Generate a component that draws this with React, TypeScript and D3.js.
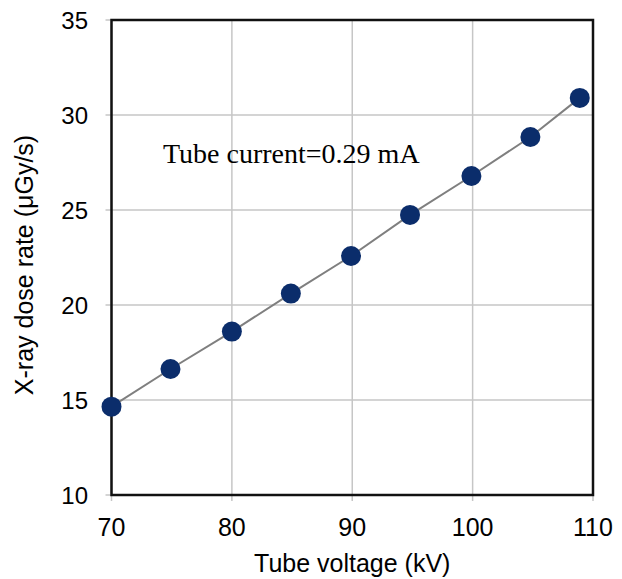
import React from "react";
import * as d3 from "d3";

const voltages = [70, 74.9, 80, 84.9, 89.9, 94.8, 99.9, 104.8, 108.9];
const doseRates = [14.65, 16.63, 18.6, 20.6, 22.58, 24.74, 26.79, 28.84, 30.9];
const xTicks = [70, 80, 90, 100, 110];
const yTicks = [10, 15, 20, 25, 30, 35];

const W = 622;
const H = 579;
const left = 111.5;
const right = 593;
const top = 20;
const bottom = 495;

export default function App() {
  const x = d3.scaleLinear().domain([70, 110]).range([left, right]);
  const y = d3.scaleLinear().domain([10, 35]).range([bottom, top]);
  const pts = voltages.map((v, i) => [v, doseRates[i]] as [number, number]);
  const line = d3
    .line<[number, number]>()
    .x((d) => x(d[0]))
    .y((d) => y(d[1]));
  const sans = "Liberation Sans, Arial, sans-serif";
  return (
    <svg
      width={W}
      height={H}
      style={{ position: "absolute", left: 0, top: 0, background: "#fff" }}
    >
      {/* grid */}
      {xTicks.map((t) => (
        <line key={"gx" + t} x1={x(t)} x2={x(t)} y1={top} y2={bottom + 6} stroke="#c6c6c6" strokeWidth={1.5} />
      ))}
      {yTicks.map((t) => (
        <line key={"gy" + t} x1={left - 6} x2={right} y1={y(t)} y2={y(t)} stroke="#c6c6c6" strokeWidth={1.5} />
      ))}
      {/* frame */}
      <rect x={left} y={top} width={right - left} height={bottom - top} fill="none" stroke="#111" strokeWidth={2.5} />
      {/* tick labels */}
      {xTicks.map((t) => (
        <text key={"tx" + t} x={x(t)} y={536} textAnchor="middle" fontFamily={sans} fontSize={25} fill="#000">
          {t}
        </text>
      ))}
      {yTicks.map((t) => (
        <text key={"ty" + t} x={88} y={y(t) + 8.5} textAnchor="end" fontFamily={sans} fontSize={24} fill="#000">
          {t}
        </text>
      ))}
      {/* axis titles */}
      <text x={(left + right) / 2} y={572} textAnchor="middle" fontFamily={sans} fontSize={25} fill="#000">
        Tube voltage (kV)
      </text>
      <text
        transform={`translate(33,${265}) rotate(-90)`}
        textAnchor="middle"
        fontFamily={sans}
        fontSize={25}
        fill="#000"
      >
        X-ray dose rate (μGy/s)
      </text>
      {/* series */}
      <path d={line(pts) || ""} fill="none" stroke="#7f7f7f" strokeWidth={2} />
      {pts.map((p, i) => (
        <circle key={i} cx={x(p[0])} cy={y(p[1])} r={10} fill="#0b2d6b" />
      ))}
      {/* annotation */}
      <text x={163} y={163} fontFamily="Liberation Serif, Times New Roman, serif" fontSize={28} fill="#000">
        Tube current=0.29 mA
      </text>
    </svg>
  );
}
